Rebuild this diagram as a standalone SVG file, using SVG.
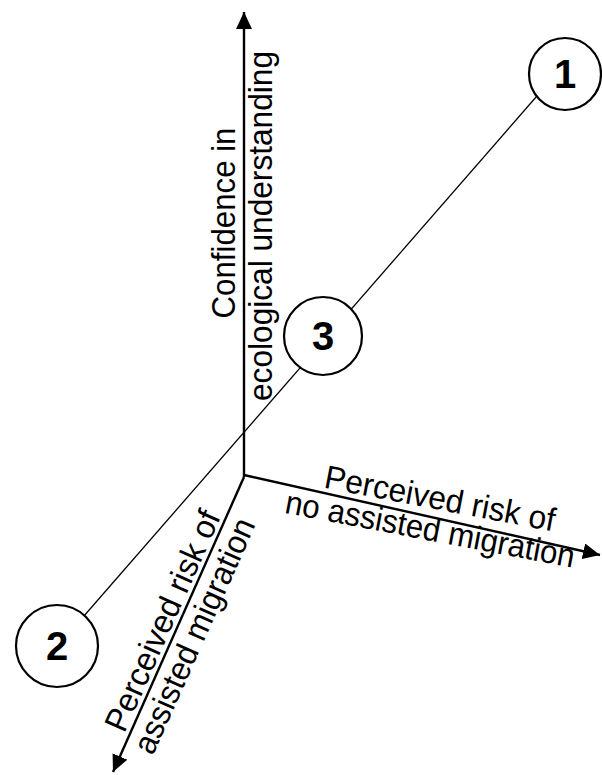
<svg xmlns="http://www.w3.org/2000/svg" width="602" height="775" viewBox="0 0 602 775">
<style>
.axis{stroke:#000;stroke-width:2.4;fill:none}
.link{stroke:#000;stroke-width:1.3;fill:none}
.node circle{fill:#fff;stroke:#000;stroke-width:2.2}
.num{font-family:"Liberation Sans",Arial,sans-serif;font-weight:bold;font-size:40px;text-anchor:middle;fill:#000}
.lbl{font-family:"Liberation Sans",Arial,sans-serif;font-size:33px;fill:#000;text-anchor:middle}
</style>
<defs>
<marker id="ah" markerUnits="userSpaceOnUse" markerWidth="18" markerHeight="16" viewBox="0 0 18 16" refX="17" refY="8" orient="auto">
<path d="M0,0 L17,8 L0,16 z" fill="#000"/>
</marker>
</defs>
<g id="connectors">
<line class="link" x1="70" y1="632" x2="550" y2="81"/>
<path class="axis" d="M244,477 V12" marker-end="url(#ah)"/>
<path class="axis" d="M244,475 L600,555" marker-end="url(#ah)"/>
<path class="axis" d="M244,477 L113,772" marker-end="url(#ah)"/>
</g>
<g id="label-y">
<text class="lbl" transform="translate(235,223) rotate(-90)" textLength="191" lengthAdjust="spacingAndGlyphs">Confidence in</text>
<text class="lbl" transform="translate(272,226) rotate(-90)" textLength="350" lengthAdjust="spacingAndGlyphs">ecological understanding</text>
</g>
<g id="label-x" transform="translate(438,509.5) rotate(10.8)">
<text class="lbl" x="0" y="0" textLength="234" lengthAdjust="spacingAndGlyphs">Perceived risk of</text>
<text class="lbl" x="-4" y="32" textLength="294" lengthAdjust="spacingAndGlyphs">no assisted migration</text>
</g>
<g id="label-z" transform="translate(181,619) rotate(-66)">
<text class="lbl" x="-9" y="-5" textLength="238" lengthAdjust="spacingAndGlyphs">Perceived risk of</text>
<text class="lbl" x="-10" y="30" textLength="254" lengthAdjust="spacingAndGlyphs">assisted migration</text>
</g>
<g id="node1" class="node">
<circle cx="565" cy="74" r="36"/>
<text class="num" x="565" y="88">1</text>
</g>
<g id="node2" class="node">
<circle cx="57" cy="646" r="41"/>
<text class="num" x="57" y="660">2</text>
</g>
<g id="node3" class="node">
<circle cx="323" cy="336" r="39"/>
<text class="num" x="323" y="350">3</text>
</g>
</svg>
